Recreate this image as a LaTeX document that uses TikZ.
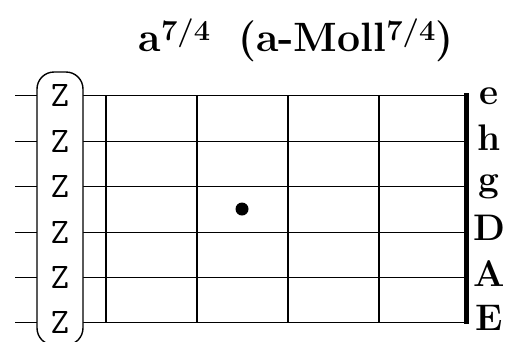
\documentclass[tikz,border=0pt]{standalone}
\usepackage{fontspec}
\setmainfont{Latin Modern Roman}
\setmonofont{Latin Modern Mono}
\newcommand{\supnum}[1]{\raisebox{11pt}{\fontsize{29}{29}\selectfont #1}}
\begin{document}
\begin{tikzpicture}[x=1pt,y=-1pt,
  stringline/.style={line width=1pt,black},
  fretline/.style={line width=1.4pt,black},
  nutline/.style={line width=5pt,black},
  zbox/.style={draw,line width=1.4pt,rounded corners=17pt,fill=white},
  zlabel/.style={font=\fontsize{36}{36}\selectfont\ttfamily,inner sep=0pt},
  strlabel/.style={font=\fontsize{37}{37}\selectfont\bfseries,inner sep=0pt,anchor=base},
  titlestyle/.style={font=\fontsize{41}{41}\selectfont\bfseries,inner sep=0pt,anchor=base},
  fingerdot/.style={circle,fill=black,inner sep=0pt,minimum size=13pt}]
\useasboundingbox (0,0) rectangle (513,341);
% title
\node[titlestyle] (title) at (296,51) {a\supnum{7/4}\hspace{28pt}(a-Moll\supnum{7/4})};
% string endpoints
\foreach \i/\y in {1/95,2/141,3/186,4/232,5/277,6/322}{
  \coordinate (L\i) at (15,\y);
  \coordinate (R\i) at (466,\y);
  \draw[stringline] (L\i) -- (R\i);
}
% frets
\foreach \j/\x in {1/106,2/197,3/288,4/379}{
  \coordinate (FT\j) at (\x,95);
  \coordinate (FB\j) at (\x,322);
  \draw[fretline] (FT\j) -- (FB\j);
}
\coordinate (NT) at (466,93);
\coordinate (NB) at (466,324);
\draw[nutline] (NT) -- (NB);
% Z box
\draw[zbox] (37,72) rectangle (83,345);
\foreach \i/\y in {1/95,2/141,3/186,4/232,5/277,6/322}{
  \node[zlabel] (Z\i) at (60,\y) {Z};
}
% string labels
\node[strlabel] (se) at (489,104) {e};
\node[strlabel] (sh) at (489,150) {h};
\node[strlabel] (sg) at (489,191) {g};
\node[strlabel] (sD) at (489,240) {D};
\node[strlabel] (sA) at (489,286) {A};
\node[strlabel] (sE) at (489,330) {E};
% dot
\node[fingerdot] (dot) at (242,209) {};
\end{tikzpicture}
\end{document}
